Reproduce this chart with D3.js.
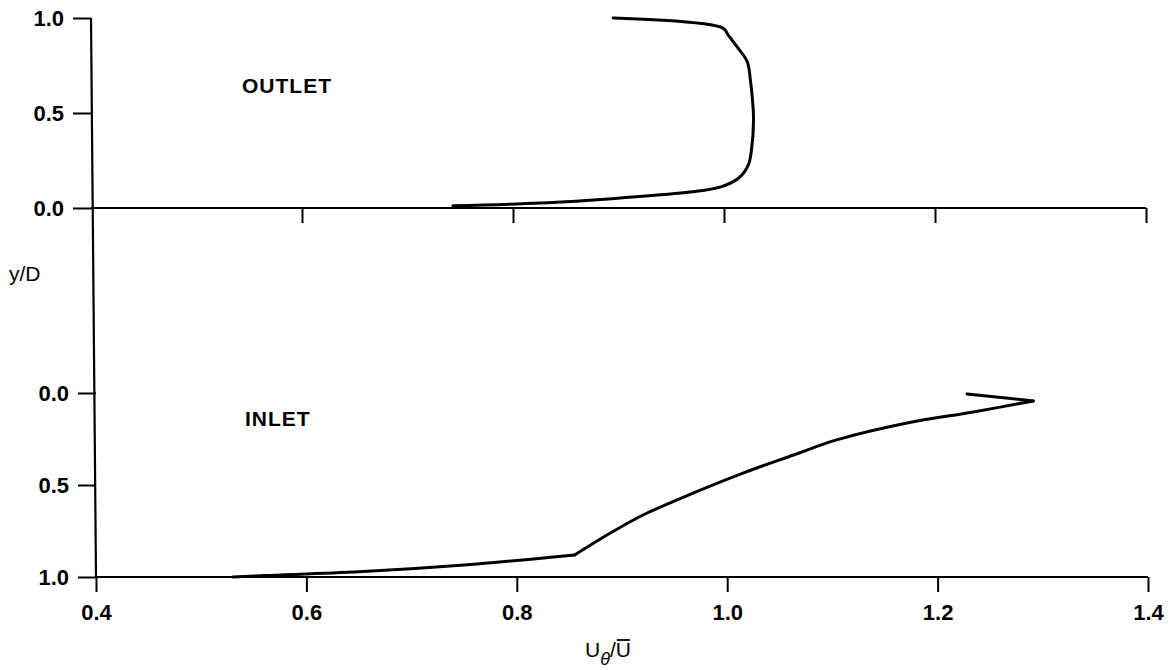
<!DOCTYPE html>
<html>
<head>
<meta charset="utf-8">
<script src="https://cdn.jsdelivr.net/npm/d3@7"></script>
<style>
  body { margin: 0; background: #fff; }
  svg { display: block; font-family: "Liberation Sans", Arial, sans-serif; }
  .tick line { stroke: #000; stroke-width: 2; }
  .axis-line { stroke: #000; stroke-width: 2.2; fill: none; }
  .curve { stroke: #000; stroke-width: 3; fill: none; stroke-linejoin: round; stroke-linecap: round; }
  .panel-label { font-size: 21px; font-weight: bold; letter-spacing: 1px; fill: #000; }
  .axis-title { font-size: 21px; fill: #000; }
</style>
</head>
<body>
<svg></svg>
<script>
const width = 1171;
const height = 670;

// tick values
const xTicks = [0.4, 0.6, 0.8, 1.0, 1.2, 1.4];
const yTicks = [0.0, 0.5, 1.0];

// outlet profile: U_theta/U and y/D
const outletU = [0.895, 0.999, 1.004, 1.011, 1.022, 1.025, 1.027, 1.028, 1.026, 1.023, 1.014, 0.997, 0.968, 0.902, 0.826, 0.743];
const outletY = [1.0, 0.947, 0.91, 0.858, 0.77, 0.674, 0.568, 0.463, 0.305, 0.226, 0.158, 0.111, 0.084, 0.053, 0.026, 0.012];

// inlet profile: U_theta/U and y/D (y measured downward)
const inletU = [1.228, 1.291, 1.234, 1.171, 1.104, 1.063, 1.015, 0.968, 0.920, 0.889, 0.855, 0.75, 0.65, 0.56, 0.53];
const inletY = [0.005, 0.043, 0.103, 0.163, 0.255, 0.337, 0.435, 0.543, 0.663, 0.761, 0.88, 0.935, 0.972, 0.992, 1.0];

const svg = d3.select("svg")
    .attr("width", width)
    .attr("height", height);

const xTop = d3.scaleLinear().domain([0.4, 1.4]).range([91, 1146]);
const xBot = d3.scaleLinear().domain([0.4, 1.4]).range([96, 1148]);
const yTop = d3.scaleLinear().domain([0, 1]).range([208, 18]);
const yBot = d3.scaleLinear().domain([0, 1]).range([393, 577]);

const fmt = d3.format(".1f");

function styleTicks(g) {
    g.select(".domain").remove();
    g.selectAll(".tick text")
        .attr("font-size", 22)
        .attr("font-weight", "bold")
        .attr("fill", "#000");
}

// left axis of the top panel
svg.append("g")
    .attr("transform", `translate(${xTop(0.4)},0)`)
    .call(d3.axisLeft(yTop).tickValues(yTicks).tickFormat(fmt).tickSize(18).tickPadding(9))
    .call(styleTicks);

// left axis of the bottom panel
svg.append("g")
    .attr("transform", `translate(${xBot(0.4)},0)`)
    .call(d3.axisLeft(yBot).tickValues(yTicks).tickFormat(fmt).tickSize(18).tickPadding(9))
    .call(styleTicks);

// top panel x axis: ticks only
svg.append("g")
    .attr("transform", `translate(0,${yTop(0)})`)
    .call(d3.axisBottom(xTop).tickValues(xTicks.slice(1)).tickFormat("").tickSize(15))
    .call(styleTicks);

// bottom panel x axis
svg.append("g")
    .attr("transform", `translate(0,${yBot(1)})`)
    .call(d3.axisBottom(xBot).tickValues(xTicks).tickFormat(fmt).tickSize(15).tickPadding(12))
    .call(styleTicks);

// axis lines
svg.append("line").attr("class", "axis-line")
    .attr("x1", xTop(0.4)).attr("y1", yTop(1))
    .attr("x2", xBot(0.4)).attr("y2", yBot(1));
svg.append("line").attr("class", "axis-line")
    .attr("x1", xTop(0.4)).attr("y1", yTop(0))
    .attr("x2", xTop(1.4)).attr("y2", yTop(0));
svg.append("line").attr("class", "axis-line")
    .attr("x1", xBot(0.4)).attr("y1", yBot(1))
    .attr("x2", xBot(1.4)).attr("y2", yBot(1));

// curves
const lineTop = d3.line()
    .x(i => xTop(outletU[i]))
    .y(i => yTop(outletY[i]))
    .curve(d3.curveCatmullRom.alpha(0.5));
svg.append("path").attr("class", "curve")
    .attr("d", lineTop(d3.range(outletU.length)));

const lineBot = d3.line()
    .x(i => xBot(inletU[i]))
    .y(i => yBot(inletY[i]));
const inletIdx = d3.range(inletU.length);
// the hook at the top is sharp, the knee at 0.855 too
svg.append("path").attr("class", "curve")
    .attr("d", lineBot.curve(d3.curveLinear)(inletIdx.slice(0, 2)));
svg.append("path").attr("class", "curve")
    .attr("d", lineBot.curve(d3.curveCatmullRom.alpha(0.5))(inletIdx.slice(1, 11)));
svg.append("path").attr("class", "curve")
    .attr("d", lineBot.curve(d3.curveCatmullRom.alpha(0.5))(inletIdx.slice(10)));

// panel labels
svg.append("text").attr("class", "panel-label")
    .attr("x", 242).attr("y", 93).text("OUTLET");
svg.append("text").attr("class", "panel-label")
    .attr("x", 245).attr("y", 426).text("INLET");

// y title
svg.append("text").attr("class", "axis-title")
    .attr("x", 9).attr("y", 281).attr("font-size", 22).text("y/D");

// x title: U_theta / U-bar
const xt = svg.append("text").attr("class", "axis-title")
    .attr("x", 585).attr("y", 657);
xt.append("tspan").text("U");
xt.append("tspan").attr("dy", 8).attr("font-size", 18).attr("font-style", "italic").text("θ");
xt.append("tspan").attr("dy", -8).text("/U");
const ext = xt.node().getExtentOfChar(3);
svg.append("line")
    .attr("x1", ext.x + 1).attr("x2", ext.x + ext.width - 1)
    .attr("y1", ext.y + 2).attr("y2", ext.y + 2)
    .attr("stroke", "#000").attr("stroke-width", 1.8);
</script>
</body>
</html>
